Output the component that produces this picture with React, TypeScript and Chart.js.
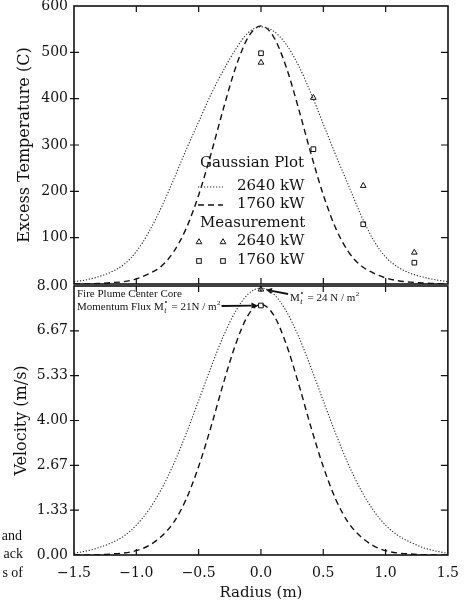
import React, { useEffect, useRef } from "react";
import { Chart, registerables } from "chart.js";

Chart.register(...registerables);

// ---------- data ----------
const RADIUS = [
  -1.5, -1.4, -1.3, -1.2, -1.1, -1.0, -0.9, -0.8, -0.7, -0.6, -0.5, -0.4, -0.3, -0.2, -0.1, 0,
  0.1, 0.2, 0.3, 0.4, 0.5, 0.6, 0.7, 0.8, 0.9, 1.0, 1.1, 1.2, 1.3, 1.4, 1.5,
];
// Gaussian plot, excess temperature (C)
const TEMP_2640 = [
  5, 9, 16, 26, 42, 70, 112, 165, 226, 290, 350, 410, 462, 508, 543, 555,
  546, 518, 472, 412, 345, 278, 214, 150, 96, 58, 36, 23, 15, 9, 5,
];
const TEMP_1760 = [
  0, 0, 1, 3, 5, 11, 22, 38, 70, 120, 192, 282, 380, 470, 534, 557,
  534, 470, 380, 282, 192, 120, 70, 40, 24, 13, 7, 4, 2, 1, 0,
];
// Gaussian plot, velocity (m/s)
const VEL_2640 = [
  0.05, 0.12, 0.22, 0.36, 0.56, 0.89, 1.34, 1.95, 2.71, 3.61, 4.59, 5.59, 6.52, 7.27, 7.77, 7.94,
  7.77, 7.27, 6.52, 5.59, 4.59, 3.61, 2.71, 1.95, 1.34, 0.89, 0.58, 0.38, 0.22, 0.12, 0.05,
];
const VEL_1760 = [
  0, 0, 0.01, 0.03, 0.06, 0.13, 0.28, 0.55, 0.97, 1.66, 2.63, 3.82, 5.12, 6.3, 7.15, 7.45,
  7.15, 6.3, 5.12, 3.82, 2.63, 1.66, 0.97, 0.55, 0.28, 0.13, 0.06, 0.03, 0.01, 0, 0,
];
// Measurements
const MEAS_R = [0, 0.42, 0.82, 1.23];
const MEAS_TEMP_2640 = [478, 402, 212, 68];
const MEAS_TEMP_1760 = [498, 291, 129, 46];
const MEAS_VEL_R = [0];
const MEAS_VEL_2640 = [7.9];
const MEAS_VEL_1760 = [7.42];

// Ticks
const X_TICKS = [-1.5, -1.0, -0.5, 0, 0.5, 1.0, 1.5];
const X_TICK_LABELS = ["\u22121.5", "\u22121.0", "\u22120.5", "0.0", "0.5", "1.0", "1.5"];
const TEMP_TICKS = [0, 100, 200, 300, 400, 500, 600];
const TEMP_TICK_LABELS = ["", "100", "200", "300", "400", "500", "600"];
const VEL_TICKS = [0, 1.3333, 2.6667, 4, 5.3333, 6.6667, 8];
const VEL_TICK_LABELS = ["0.00", "1.33", "2.67", "4.00", "5.33", "6.67", "8.00"];

// ---------- styles ----------
const SERIF = '"DejaVu Serif", serif';
const TIMES = '"Liberation Serif", "Times New Roman", serif';
const INK = "#111";
const DOT_INK = "#222";
const DOT_DASH = [1.2, 1.8];
const DASH_DASH = [6, 4];

const pts = (xs: number[], ys: number[]) => xs.map((x, i) => ({ x, y: ys[i] }));

function curve(label: string, ys: number[], dotted: boolean) {
  return {
    label,
    data: pts(RADIUS, ys),
    showLine: true,
    pointRadius: 0,
    borderColor: dotted ? DOT_INK : INK,
    borderWidth: dotted ? 1.1 : 1.4,
    borderDash: dotted ? DOT_DASH : DASH_DASH,
    cubicInterpolationMode: "monotone",
    fill: false,
  };
}

function marks(label: string, xs: number[], ys: number[], style: string) {
  return {
    label,
    data: pts(xs, ys),
    showLine: false,
    pointStyle: style,
    pointRadius: 3.3,
    borderColor: INK,
    borderWidth: 1,
    backgroundColor: "rgba(0,0,0,0)",
  };
}

function framePlugin(xTicks: number[], yTicks: number[]) {
  return {
    id: "frame",
    afterDatasetsDraw(chart: any) {
      const { ctx, chartArea: a, scales } = chart;
      const xs = scales.x;
      const ys = scales.y;
      ctx.save();
      ctx.strokeStyle = INK;
      ctx.setLineDash([]);
      ctx.lineWidth = 1.6;
      ctx.strokeRect(a.left, a.top, a.right - a.left, a.bottom - a.top);
      ctx.lineWidth = 1.2;
      ctx.beginPath();
      for (const v of xTicks) {
        const px = xs.getPixelForValue(v);
        if (px <= a.left + 1 || px >= a.right - 1) continue;
        ctx.moveTo(px, a.top);
        ctx.lineTo(px, a.top + 6);
        ctx.moveTo(px, a.bottom);
        ctx.lineTo(px, a.bottom - 6);
      }
      for (const v of yTicks) {
        const py = ys.getPixelForValue(v);
        if (py <= a.top + 1 || py >= a.bottom - 1) continue;
        ctx.moveTo(a.left - 4, py);
        ctx.lineTo(a.left + 5, py);
        ctx.moveTo(a.right, py);
        ctx.lineTo(a.right - 7, py);
      }
      ctx.stroke();
      ctx.restore();
    },
  };
}

function drawTri(ctx: CanvasRenderingContext2D, x: number, y: number) {
  ctx.beginPath();
  ctx.moveTo(x, y - 3.3);
  ctx.lineTo(x + 2.9, y + 1.7);
  ctx.lineTo(x - 2.9, y + 1.7);
  ctx.closePath();
  ctx.stroke();
}
function drawSq(ctx: CanvasRenderingContext2D, x: number, y: number) {
  ctx.strokeRect(x - 2.3, y - 2.3, 4.6, 4.6);
}

const legendPlugin = {
  id: "tempLegend",
  afterDraw(chart: any) {
    const { ctx, chartArea: a } = chart;
    const lx = a.left + 124;
    ctx.save();
    ctx.fillStyle = INK;
    ctx.strokeStyle = INK;
    ctx.textBaseline = "middle";
    ctx.textAlign = "left";
    ctx.font = `15px ${SERIF}`;
    ctx.fillText("Gaussian Plot", lx + 2, a.top + 157);
    ctx.fillText("Measurement", lx + 2, a.top + 217);
    ctx.fillText("2640 kW", lx + 39, a.top + 180);
    ctx.fillText("1760 kW", lx + 39, a.top + 198);
    ctx.fillText("2640 kW", lx + 39, a.top + 235);
    ctx.fillText("1760 kW", lx + 39, a.top + 254);
    ctx.lineWidth = 1.1;
    ctx.setLineDash(DOT_DASH);
    ctx.strokeStyle = DOT_INK;
    ctx.beginPath();
    ctx.moveTo(lx, a.top + 181);
    ctx.lineTo(lx + 25, a.top + 181);
    ctx.stroke();
    ctx.strokeStyle = INK;
    ctx.lineWidth = 1.4;
    ctx.setLineDash(DASH_DASH);
    ctx.beginPath();
    ctx.moveTo(lx, a.top + 199);
    ctx.lineTo(lx + 25, a.top + 199);
    ctx.stroke();
    ctx.setLineDash([]);
    ctx.lineWidth = 1;
    drawTri(ctx, lx + 1, a.top + 236);
    drawTri(ctx, lx + 25, a.top + 236);
    drawSq(ctx, lx + 1, a.top + 255);
    drawSq(ctx, lx + 25, a.top + 255);
    ctx.restore();
  },
};

function drawMt(ctx: CanvasRenderingContext2D, x: number, y: number, rest: string) {
  ctx.font = `11px ${TIMES}`;
  ctx.fillText("M", x, y);
  let cx = x + ctx.measureText("M").width;
  ctx.font = `italic 8px ${TIMES}`;
  ctx.fillText("t", cx + 0.5, y + 3);
  ctx.beginPath();
  ctx.arc(cx + 2.2, y - 8, 0.9, 0, Math.PI * 2);
  ctx.fill();
  cx += 5;
  ctx.font = `11px ${TIMES}`;
  ctx.fillText(rest, cx, y);
  cx += ctx.measureText(rest).width;
  ctx.font = `7px ${TIMES}`;
  ctx.fillText("2", cx + 0.5, y - 5);
  return cx + 4;
}

function arrow(ctx: CanvasRenderingContext2D, x1: number, y1: number, x2: number, y2: number) {
  const ang = Math.atan2(y2 - y1, x2 - x1);
  const hl = 6;
  const hw = 3;
  const bx = x2 - hl * Math.cos(ang);
  const by = y2 - hl * Math.sin(ang);
  ctx.lineWidth = 1.8;
  ctx.beginPath();
  ctx.moveTo(x1, y1);
  ctx.lineTo(bx, by);
  ctx.stroke();
  ctx.beginPath();
  ctx.moveTo(x2, y2);
  ctx.lineTo(bx + hw * Math.sin(ang), by - hw * Math.cos(ang));
  ctx.lineTo(bx - hw * Math.sin(ang), by + hw * Math.cos(ang));
  ctx.closePath();
  ctx.fill();
}

const annotationPlugin = {
  id: "velNotes",
  afterDraw(chart: any) {
    const { ctx, chartArea: a, scales } = chart;
    const xs = scales.x;
    const ys = scales.y;
    ctx.save();
    ctx.fillStyle = INK;
    ctx.strokeStyle = INK;
    ctx.setLineDash([]);
    ctx.textBaseline = "alphabetic";
    ctx.textAlign = "left";
    ctx.font = `11px ${TIMES}`;
    ctx.fillText("Fire Plume Center Core", a.left + 3, a.top + 11);
    ctx.fillText("Momentum Flux ", a.left + 3, a.top + 24);
    const mx = a.left + 3 + ctx.measureText("Momentum Flux ").width;
    const end1 = drawMt(ctx, mx, a.top + 24, " = 21N / m");
    arrow(ctx, end1 + 1, a.top + 20, xs.getPixelForValue(MEAS_VEL_R[0]) - 3.5, ys.getPixelForValue(MEAS_VEL_1760[0]));
    drawMt(ctx, a.left + 216, a.top + 15, " = 24 N / m");
    arrow(ctx, a.left + 214, a.top + 8, xs.getPixelForValue(MEAS_VEL_R[0]) + 5, ys.getPixelForValue(MEAS_VEL_2640[0]) + 0.5);
    // partial text from the neighbouring page column
    ctx.font = `14px ${TIMES}`;
    ctx.textAlign = "right";
    ctx.fillText("and", 22, 540 - 270);
    ctx.fillText("ack", 23, 558 - 270);
    ctx.fillText("s of", 23, 577 - 270);
    ctx.restore();
  },
};

const tickFont = { family: SERIF, size: 14 };
const titleFont = { family: SERIF, size: 16 };

function TopChart() {
  const ref = useRef<HTMLCanvasElement>(null);
  useEffect(() => {
    const chart = new Chart(ref.current as HTMLCanvasElement, {
      type: "scatter",
      data: {
        datasets: [
          curve("2640 kW", TEMP_2640, true),
          curve("1760 kW", TEMP_1760, false),
          marks("2640 kW meas", MEAS_R, MEAS_TEMP_2640, "triangle"),
          marks("1760 kW meas", MEAS_R, MEAS_TEMP_1760, "rect"),
        ] as any,
      },
      options: {
        animation: false,
        responsive: false,
        maintainAspectRatio: false,
        layout: { padding: { top: 16, bottom: 16, left: 0, right: 21 } },
        plugins: { legend: { display: false }, tooltip: { enabled: false } },
        scales: {
          x: { type: "linear", min: -1.5, max: 1.5, display: false },
          y: {
            type: "linear",
            min: 0,
            max: 600,
            afterBuildTicks: (s: any) => {
              s.ticks = TEMP_TICKS.map((v) => ({ value: v }));
            },
            afterFit: (s: any) => {
              s.width = 74;
            },
            ticks: {
              callback: (_v: any, i: number) => TEMP_TICK_LABELS[i],
              font: tickFont,
              color: INK,
              padding: 6,
            },
            grid: { display: false, drawTicks: false },
            border: { display: false },
            title: {
              display: true,
              text: "Excess Temperature (C)",
              font: titleFont,
              color: INK,
              padding: { top: 15, bottom: 0 },
            },
          },
        },
      } as any,
      plugins: [framePlugin(X_TICKS, TEMP_TICKS), legendPlugin],
    });
    return () => chart.destroy();
  }, []);
  return (
    <canvas
      ref={ref}
      width={469}
      height={310}
      style={{ position: "absolute", left: 0, top: -10, width: 469, height: 310 }}
    />
  );
}

function BottomChart() {
  const ref = useRef<HTMLCanvasElement>(null);
  useEffect(() => {
    const chart = new Chart(ref.current as HTMLCanvasElement, {
      type: "scatter",
      data: {
        datasets: [
          curve("2640 kW", VEL_2640, true),
          curve("1760 kW", VEL_1760, false),
          marks("2640 kW meas", MEAS_VEL_R, MEAS_VEL_2640, "triangle"),
          marks("1760 kW meas", MEAS_VEL_R, MEAS_VEL_1760, "rect"),
        ] as any,
      },
      options: {
        animation: false,
        responsive: false,
        maintainAspectRatio: false,
        layout: { padding: { top: 16, bottom: 0, left: 0, right: 21 } },
        plugins: { legend: { display: false }, tooltip: { enabled: false } },
        scales: {
          x: {
            type: "linear",
            min: -1.5,
            max: 1.5,
            afterBuildTicks: (s: any) => {
              s.ticks = X_TICKS.map((v) => ({ value: v }));
            },
            afterFit: (s: any) => {
              s.height = 49;
            },
            ticks: {
              callback: (_v: any, i: number) => X_TICK_LABELS[i],
              font: tickFont,
              color: INK,
              padding: 10,
              autoSkip: false,
              maxRotation: 0,
            },
            grid: { display: false, drawTicks: false },
            border: { display: false },
            title: {
              display: true,
              text: "Radius (m)",
              font: { family: SERIF, size: 15 },
              color: INK,
              padding: { top: 0, bottom: 2 },
            },
          },
          y: {
            type: "linear",
            min: 0,
            max: 8,
            afterBuildTicks: (s: any) => {
              s.ticks = VEL_TICKS.map((v) => ({ value: v }));
            },
            afterFit: (s: any) => {
              s.width = 74;
            },
            ticks: {
              callback: (_v: any, i: number) => VEL_TICK_LABELS[i],
              font: tickFont,
              color: INK,
              padding: 6,
            },
            grid: { display: false, drawTicks: false },
            border: { display: false },
            title: {
              display: true,
              text: "Velocity (m/s)",
              font: titleFont,
              color: INK,
              padding: { top: 12, bottom: 0 },
            },
          },
        },
      } as any,
      plugins: [framePlugin(X_TICKS, VEL_TICKS), annotationPlugin],
    });
    return () => chart.destroy();
  }, []);
  return (
    <canvas
      ref={ref}
      width={469}
      height={334}
      style={{ position: "absolute", left: 0, top: 270, width: 469, height: 334 }}
    />
  );
}

export default function App() {
  return (
    <div
      style={{
        position: "absolute",
        left: 0,
        top: 0,
        width: 469,
        height: 604,
        background: "#fff",
        overflow: "hidden",
      }}
    >
      <TopChart />
      <BottomChart />
    </div>
  );
}
